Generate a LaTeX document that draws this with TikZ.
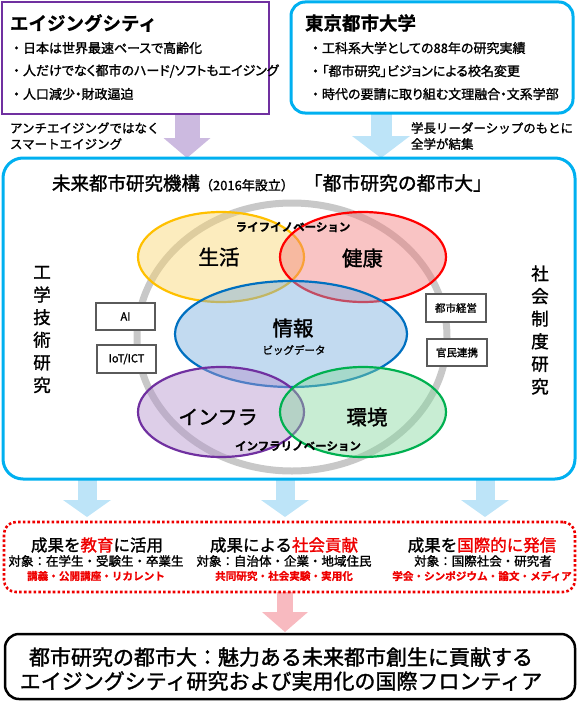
\documentclass[tikz,border=0pt]{standalone}
\usepackage{fontspec}
\setmainfont{Noto Sans CJK JP}[FakeBold=1.5]
\newfontfamily\jpp[RawFeature=+palt,FakeBold=1.5]{Noto Sans CJK JP}
\newfontfamily\jpb[FakeBold=0.8]{Noto Sans CJK JP Bold}
\usetikzlibrary{shapes.geometric,arrows.meta}
\newcommand\myfs[2]{\fontsize{#1pt}{#2pt}\selectfont}
\definecolor{cpur}{RGB}{112,48,160}
\definecolor{cblu}{RGB}{0,176,240}
\definecolor{lav}{RGB}{204,186,224}
\definecolor{lblu}{RGB}{189,228,248}
\definecolor{lpink}{RGB}{248,186,192}
\definecolor{tred}{RGB}{238,0,0}
\definecolor{ringc}{RGB}{200,200,200}
\definecolor{eyel}{RGB}{255,192,0}
\definecolor{ered}{RGB}{255,0,0}
\definecolor{eblu}{RGB}{0,112,192}
\definecolor{epur}{RGB}{112,48,160}
\definecolor{egrn}{RGB}{0,176,80}
\definecolor{fyel}{RGB}{249,213,111}
\definecolor{fred}{RGB}{242,124,124}
\definecolor{fblu}{RGB}{120,172,222}
\definecolor{fpur}{RGB}{180,147,204}
\definecolor{fgrn}{RGB}{133,216,158}
\definecolor{sboxc}{RGB}{90,90,90}
\pgfdeclarelayer{bg}
\pgfsetlayers{bg,main}
\begin{document}
\begin{tikzpicture}[x=1pt,y=-1pt,
  every node/.style={inner sep=0pt,outer sep=0pt},
  txt/.style={anchor=west},
  bullet/.style={anchor=west,font=\myfs{13}{13}},
  ell/.style={ellipse,draw=#1,line width=2.2pt,fill opacity=0.45},
  lab/.style={font=\myfs{20.5}{20.5}},
  sbox/.style={draw=sboxc,line width=1.2pt,fill=white,minimum width=59pt,minimum height=27pt},
  vtext/.style={align=center,font=\myfs{17.5}{22.6}},
  coltitle/.style={font=\myfs{16.5}{16.5}},
  colsub/.style={font=\myfs{12.5}{12.5}},
  colred/.style={font=\jpb\myfs{10.6}{10.6},text=tred},
  innov/.style={font=\jpb\myfs{11.5}{11.5}}
]
\useasboundingbox (0,0) rectangle (578,701);

% top boxes
\node[draw=cpur,line width=2.5pt,fill=white,minimum width=267pt,minimum height=112pt] (tl) at (135.5,58) {};
\node[draw=cblu,line width=3pt,fill=white,rounded corners=14pt,minimum width=282pt,minimum height=111pt] (tr) at (432,57.5) {};

\node[txt,font=\jpb\myfs{18.5}{18.5}] (tlt) at (10,23) {エイジングシティ};
\node[bullet] (tl1) at (10,48) {・{\jpp 日本は世界最速ペースで高齢化}};
\node[bullet] (tl2) at (10,71) {・{\jpp 人だけでなく都市のハード/ソフトもエイジング}};
\node[bullet] (tl3) at (10,94) {・{\jpp 人口減少・財政逼迫}};

\node[txt,font=\jpb\myfs{18.5}{18.5}] (trt) at (305,23) {東京都市大学};
\node[bullet] (tr1) at (309,48) {・{\jpp 工科系大学としての88年の研究実績}};
\node[bullet] (tr2) at (309,71) {・{\jpp 「都市研究」ビジョンによる校名変更}};
\node[bullet] (tr3) at (309,94) {・{\jpp 時代の要請に取り組む文理融合・文系学部}};

\node[txt,font=\myfs{12.5}{12.5}] (al1) at (10,128) {アンチエイジングではなく};
\node[txt,font=\myfs{12.5}{12.5}] (al2) at (10,144) {スマートエイジング};
\node[txt,font=\myfs{12.5}{12.5}] (ar1) at (411,128) {学長リーダーシップのもとに};
\node[txt,font=\myfs{12.5}{12.5}] (ar2) at (411,144) {全学が結集};

% big box
\node[draw=cblu,line width=3pt,rounded corners=20pt,minimum width=572pt,minimum height=321pt] (big) at (289,318.5) {};
\node[txt] (bt) at (52,183) {{\myfs{18.5}{18.5}未来都市研究機構}{\myfs{13}{13}（2016年設立）}\hspace{10pt}{\myfs{18.8}{18.8}「都市研究の都市大」}};

% ring and ellipses
\node[ellipse,draw=ringc,line width=7pt,minimum width=310pt,minimum height=268pt] (ring) at (292,337) {};
\node[ell=eyel,fill=fyel,minimum width=166pt,minimum height=90pt] (sei) at (221,257) {};
\node[ell=ered,fill=fred,minimum width=166pt,minimum height=90pt] (ken) at (363,257) {};
\node[ell=eblu,fill=fblu,minimum width=232pt,minimum height=106pt] (jo) at (291,334) {};
\node[ell=epur,fill=fpur,minimum width=166pt,minimum height=90pt] (inf) at (221,412) {};
\node[ell=egrn,fill=fgrn,minimum width=166pt,minimum height=90pt] (kan) at (363,412) {};

\node[lab] (lsei) at (219,257) {生活};
\node[lab] (lken) at (362.5,258) {健康};
\node[lab] (ljo) at (293,328) {情報};
\node[font=\myfs{10.5}{10.5}] (lbig) at (294,350) {ビッグデータ};
\node[font=\myfs{20}{20}] (linf) at (218,417) {インフラ};
\node[lab] (lkan) at (367,417) {環境};
\node[innov] (llife) at (293,227) {ライフイノベーション};
\node[innov] (linfr) at (298,446) {インフラリノベーション};

% side boxes
\node[sbox,font=\myfs{11}{11}] (ai) at (125.5,316.5) {AI};
\node[sbox,minimum height=28pt,font=\myfs{11}{11}] (iot) at (126.5,359) {IoT/ICT};
\node[sbox,minimum width=60pt,minimum height=28pt,font=\myfs{10.5}{10.5}] (toshi) at (456,308) {都市経営};
\node[sbox,minimum width=60pt,font=\myfs{10.5}{10.5}] (kanmin) at (457,352.5) {官民連携};

\node[vtext] (vl) at (42,329.5) {工\\学\\技\\術\\研\\究};
\node[vtext] (vr) at (540,330) {社\\会\\制\\度\\研\\究};

% results box
\node[draw=tred,line width=2.6pt,dash pattern=on 2.6pt off 2.2pt,rounded corners=12pt,minimum width=571pt,minimum height=70pt] (dot) at (289.5,557) {};
\node[coltitle] (c1a) at (97,545) {成果を\textcolor{tred}{教育}に活用};
\node[colsub] (c1b) at (96,561) {対象：在学生・受験生・卒業生};
\node[colred] (c1c) at (96,576) {講義・公開講座・リカレント};
\node[coltitle] (c2a) at (284,545) {成果による\textcolor{tred}{社会貢献}};
\node[colsub] (c2b) at (284,561) {対象：自治体・企業・地域住民};
\node[colred] (c2c) at (284,576) {共同研究・社会実験・実用化};
\node[coltitle] (c3a) at (482,545) {成果を\textcolor{tred}{国際的に発信}};
\node[colsub] (c3b) at (483,561) {対象：国際社会・研究者};
\node[colred] (c3c) at (482,576) {学会・シンポジウム・論文・メディア};

% final box
\node[draw=black,line width=2.5pt,rounded corners=14pt,minimum width=570pt,minimum height=65pt] (fin) at (290,666.5) {};
\node[align=center,font=\myfs{21}{24}] (fint) at (281,669) {都市研究の都市大：魅力ある未来都市創生に貢献する\\エイジングシティ研究および実用化の国際フロンティア};

% block arrows
\coordinate (a1) at (187,0);
\coordinate (a2) at (381,0);
\coordinate (b1) at (87,0);
\coordinate (b2) at (285,0);
\coordinate (b3) at (485,0);
\begin{pgfonlayer}{bg}
\draw[lav,line width=25pt,-{Triangle[length=20pt,width=47pt,line width=0pt]}] (tl.south -| a1) -- (big.north -| a1);
\draw[lblu,line width=21pt,-{Triangle[length=22pt,width=58pt,line width=0pt]}] (tr.south -| a2) -- (big.north -| a2);
\draw[lblu,line width=19pt,-{Triangle[length=17pt,width=48pt,line width=0pt]},shorten >=5pt] (big.south -| b1) -- (dot.north -| b1);
\draw[lblu,line width=19pt,-{Triangle[length=17pt,width=48pt,line width=0pt]},shorten >=5pt] (big.south -| b2) -- (dot.north -| b2);
\draw[lblu,line width=19pt,-{Triangle[length=17pt,width=48pt,line width=0pt]},shorten >=5pt] (big.south -| b3) -- (dot.north -| b3);
\draw[lpink,line width=16pt,-{Triangle[length=20pt,width=46pt,line width=0pt]},shorten >=2pt] (dot.south -| b2) -- (fin.north -| b2);
\end{pgfonlayer}
\end{tikzpicture}
\end{document}
